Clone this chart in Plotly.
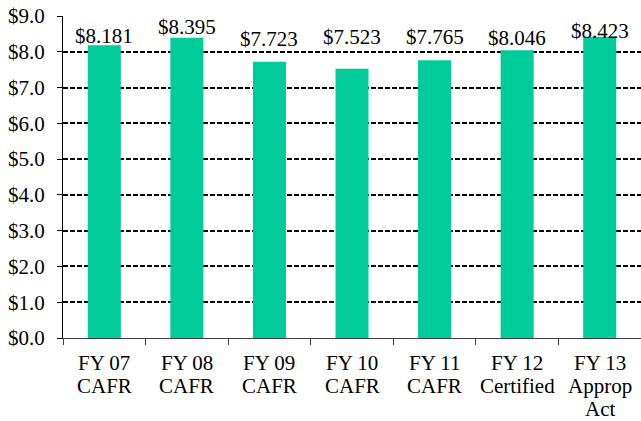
import plotly.graph_objects as go

categories = ["FY 07<br>CAFR", "FY 08<br>CAFR", "FY 09<br>CAFR", "FY 10<br>CAFR",
              "FY 11<br>CAFR", "FY 12<br>Certified", "FY 13<br>Approp<br>Act"]
values = [8.181, 8.395, 7.723, 7.523, 7.765, 8.046, 8.423]
labels = ["$8.181", "$8.395", "$7.723", "$7.523", "$7.765", "$8.046", "$8.423"]

# pixel offsets of the value labels above each bar top (styling only)
label_yshift = [9, 11, 23, 32, 23, 12, 6]

font = dict(family="Liberation Serif", size=21, color="black")

fig = go.Figure()
fig.add_trace(go.Bar(x=categories, y=values, marker=dict(color="#00CC99", line=dict(width=0)),
                     width=0.4, cliponaxis=False))
for c, v, t, s in zip(categories, values, labels, label_yshift):
    fig.add_annotation(x=c, y=v, text=t, showarrow=False, yanchor="middle", yshift=s,
                       font=font)
# category labels, one annotation per line for tight line spacing
for c in categories:
    for i, line in enumerate(c.split("<br>")):
        fig.add_annotation(x=c, y=0, text=line, showarrow=False, yanchor="middle",
                           yshift=-25 - 23 * i, font=font)

fig.update_layout(
    width=641, height=421,
    margin=dict(l=63, r=0, t=16, b=83, autoexpand=False),
    paper_bgcolor="white", plot_bgcolor="white",
    font=font, showlegend=False,
)
fig.update_xaxes(showline=True, linecolor="#404040", linewidth=1, ticks="outside",
                 tickson="boundaries", ticklen=6, tickcolor="#404040", showgrid=False,
                 showticklabels=False, automargin=False)
fig.update_yaxes(range=[0, 9], dtick=1, tickprefix="$", tickformat=".1f",
                 showline=True, linecolor="black", linewidth=1, ticks="outside",
                 ticklen=5, tickcolor="black", showgrid=True, gridcolor="black",
                 griddash="5px,2px", gridwidth=1.5, zeroline=False, tickfont=font,
                 ticklabelstandoff=8, automargin=False)
fig.write_html("out.html", config={"displayModeBar": False})

with open("out.html", encoding="utf-8") as f:
    html = f.read()
html = html.replace("<head>", "<head><style>body{margin:0;overflow:hidden;}</style>", 1)
with open("out.html", "w", encoding="utf-8") as f:
    f.write(html)
